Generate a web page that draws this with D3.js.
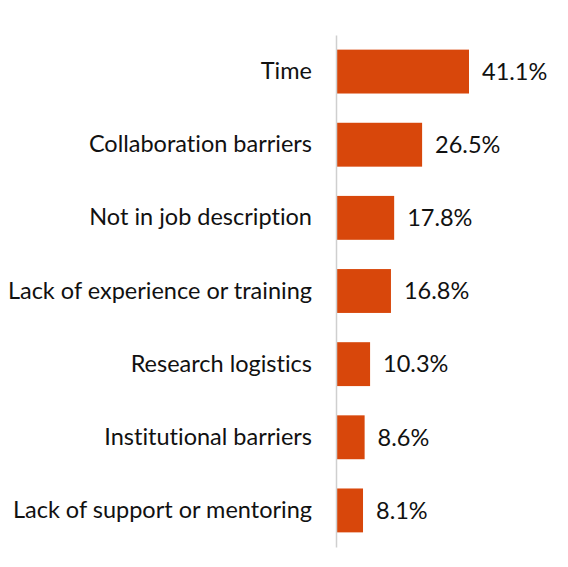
<!DOCTYPE html>
<html>
<head>
<meta charset="utf-8">
<script src="https://cdn.jsdelivr.net/npm/d3@7"></script>
<style>
  body { margin: 0; background: #fff; }
  text { font-family: Lato, "Open Sans", sans-serif; fill: #111; font-variant-ligatures: none; }
</style>
</head>
<body>
<div id="chart"></div>
<script>
// data
const categories = ["Time", "Collaboration barriers", "Not in job description",
  "Lack of experience or training", "Research logistics", "Institutional barriers",
  "Lack of support or mentoring"];
const values = [41.1, 26.5, 17.8, 16.8, 10.3, 8.6, 8.1];

const width = 568;
const height = 567;

const svg = d3.select("#chart").append("svg").attr("width", width).attr("height", height);

// x: percent to pixels, y: one band per category
const x = d3.scaleLinear().domain([0, 41.1]).range([337, 469]);
const y = d3.scaleBand().domain(categories).range([35, 547]).paddingInner(0.4).paddingOuter(0.2);

// bars
svg.selectAll("rect").data(values)
  .enter()
  .append("rect")
  .attr("x", x(0))
  .attr("y", (d, i) => y(categories[i]))
  .attr("width", d => x(d) - x(0))
  .attr("height", y.bandwidth())
  .attr("fill", "#d8470b");

// category axis line, no ticks
const axis = svg.append("g").attr("transform", `translate(${x(0) - 1}, 0)`)
  .call(d3.axisLeft(y).tickSize(0).tickPadding(24));
axis.select(".domain").attr("stroke", "#cfcfcf").attr("stroke-width", 1.5);
axis.selectAll("text").style("font-size", "23.5px").style("font-family", null).attr("fill", "#111");

// value labels
svg.selectAll(".val").data(values)
  .enter()
  .append("text")
  .attr("class", "val")
  .attr("x", d => x(d) + 13)
  .attr("y", (d, i) => y(categories[i]) + y.bandwidth() / 2)
  .attr("dy", "0.35em")
  .style("font-size", "23.5px")
  .text(d => d.toFixed(1) + "%");
</script>
</body>
</html>
